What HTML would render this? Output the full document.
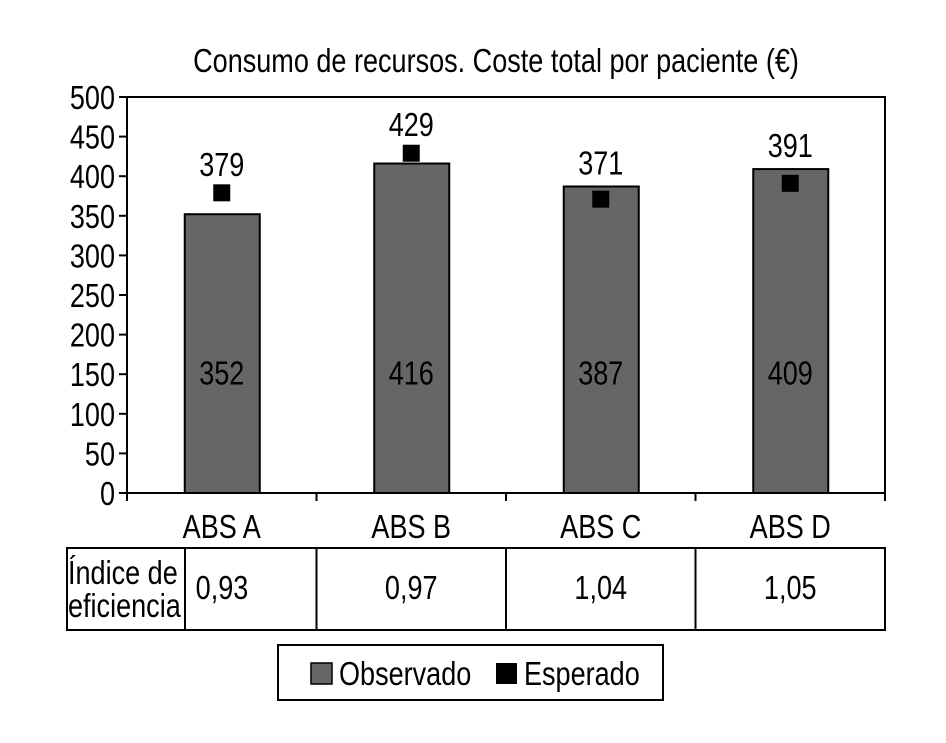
<!DOCTYPE html>
<html><head><meta charset="utf-8"><style>
body{margin:0;background:#fff;}
svg text{font-family:"Liberation Sans",sans-serif;fill:#000;}
</style></head><body>
<svg id="chart" width="946" height="738" xmlns="http://www.w3.org/2000/svg"></svg>
<script>
const categories=["ABS A","ABS B","ABS C","ABS D"];
const observed=[352,416,387,409];
const expected=[379,429,371,391];
const efficiency=["0,93","0,97","1,04","1,05"];
const yTicks=[0,50,100,150,200,250,300,350,400,450,500];

const svg=document.getElementById('chart');
const NS="http://www.w3.org/2000/svg";
const X0=127,X1=885,Y0=493,Y1=97,YMAX=500;
const FS=33;
const bw=(X1-X0)/categories.length;
function y(v){return Y0-(v/YMAX)*(Y0-Y1);}
function xc(i){return X0+bw*(i+0.5);}
function mk(tag,attrs,parent){const e=document.createElementNS(NS,tag);for(const k in attrs)e.setAttribute(k,attrs[k]);(parent||svg).appendChild(e);return e;}
function txt(x,yy,s,size,anchor,parent){const t=mk('text',{x:0,y:0,'font-size':size||FS,'text-anchor':anchor||'middle',transform:'translate('+x+','+yy+') scale(0.82,1)'},parent);t.textContent=s;return t;}

let t=txt(496,72,"Consumo de recursos. Coste total por paciente (€)",FS);



let fr=mk('rect',{x:X0,y:Y1,width:X1-X0,height:Y0-Y1,fill:'none',stroke:'#000','stroke-width':2});



yTicks.forEach(v=>{
  mk('line',{x1:X0-8,x2:X0,y1:y(v),y2:y(v),stroke:'#000','stroke-width':2});
  let l=txt(X0-12,y(v)+12,String(v),FS,'end');
  
  
});
for(let i=0;i<=categories.length;i++){
  mk('line',{x1:X0+bw*i,x2:X0+bw*i,y1:Y0,y2:Y0+8,stroke:'#000','stroke-width':2});
}

categories.forEach((c,i)=>{
  const cx=xc(i);
  let b=mk('rect',{x:cx-37,y:y(observed[i]),width:75,height:Y0-y(observed[i]),fill:'#666',stroke:'#000','stroke-width':2});
  
  
  let bl=txt(cx,y(137),String(observed[i]),FS);
  
  
  let m=mk('rect',{x:cx-8.5,y:y(expected[i])-8.5,width:17,height:17,fill:'#000'});
  
  
  const ly=Math.min(y(expected[i])-17,y(observed[i])-12);
  let ml=txt(cx,ly,String(expected[i]),FS);
  
  
  let cl=txt(cx,538,c,FS);
  
  
});

const TY0=548,TY1=630;
let tb=mk('rect',{x:67,y:TY0,width:X1-67,height:TY1-TY0,fill:'none',stroke:'#000','stroke-width':2});


mk('line',{x1:185,x2:185,y1:TY0,y2:TY1,stroke:'#000','stroke-width':2});
for(let i=1;i<categories.length;i++){mk('line',{x1:X0+bw*i,x2:X0+bw*i,y1:TY0,y2:TY1,stroke:'#000','stroke-width':2});}
let h1=txt(68,584,"Índice de",FS,'start');


let h2=txt(68,617,"eficiencia",FS,'start');


efficiency.forEach((e,i)=>{
  const x=i===0?222:xc(i);
  let c=txt(x,599,e,FS);
  
  
});

let lg=mk('g',{});


mk('rect',{x:278,y:645,width:385,height:55,fill:'#fff',stroke:'#000','stroke-width':2},lg);
let s1=mk('rect',{x:311,y:663,width:21,height:21,fill:'#666',stroke:'#000','stroke-width':1.5},lg);


let l1=txt(339,685,"Observado",FS,'start',lg);


let s2=mk('rect',{x:496,y:663,width:21,height:21,fill:'#000'},lg);


let l2=txt(524,685,"Esperado",FS,'start',lg);


</script>
</body></html>
